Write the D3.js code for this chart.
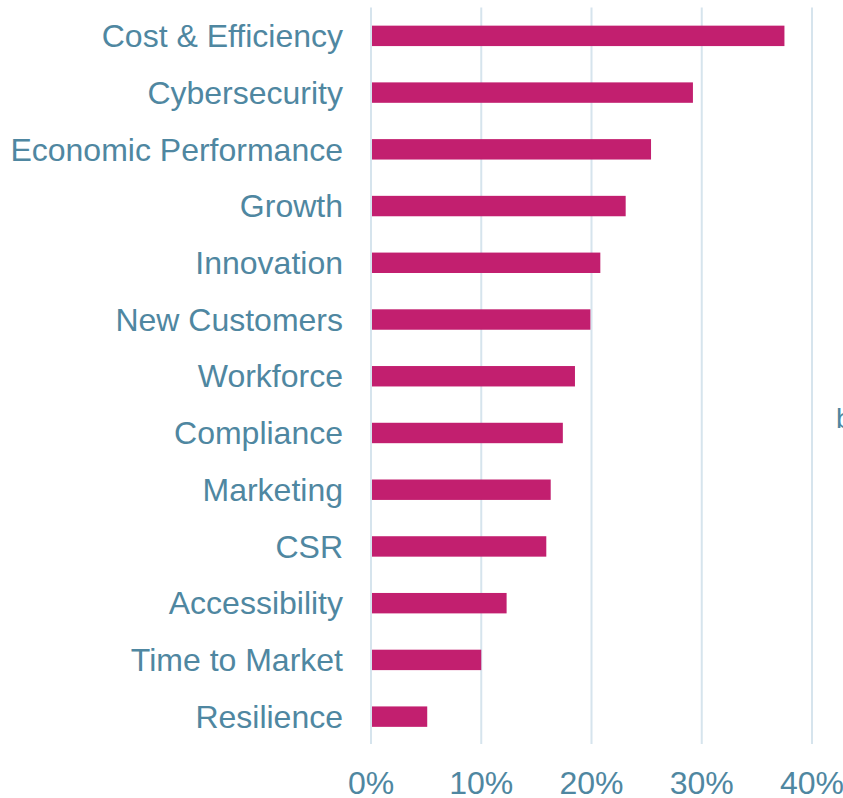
<!DOCTYPE html>
<html>
<head>
<meta charset="utf-8">
<script src="https://cdn.jsdelivr.net/npm/d3@7"></script>
<style>
  body { margin: 0; background: #fff; }
  svg { display: block; }
</style>
</head>
<body>
<svg id="chart"></svg>
<script>
// values (share of respondents)
var categories = ["Cost & Efficiency", "Cybersecurity", "Economic Performance", "Growth",
                  "Innovation", "New Customers", "Workforce", "Compliance", "Marketing",
                  "CSR", "Accessibility", "Time to Market", "Resilience"];
var shares = [0.375, 0.292, 0.254, 0.231, 0.208, 0.199, 0.185, 0.174, 0.163, 0.159, 0.123, 0.100, 0.051];
var tickValues = [0, 0.1, 0.2, 0.3, 0.4];

var width = 843, height = 798;
var textColor = "#4f87a1", barColor = "#c21f6f", gridColor = "#d6e4ed";

var svg = d3.select("#chart")
    .attr("width", width)
    .attr("height", height);

var x = d3.scaleLinear()
    .domain([0, 0.4])
    .range([371, 812]);

var y = d3.scaleBand()
    .domain(categories)
    .range([7.5, 745])
    .paddingInner(0.64)
    .paddingOuter(0.32);

// vertical grid lines
svg.append("g")
    .selectAll("line")
    .data(tickValues)
    .join("line")
    .attr("x1", d => x(d))
    .attr("x2", d => x(d))
    .attr("y1", 7.5)
    .attr("y2", 744)
    .attr("stroke", gridColor)
    .attr("stroke-width", 2);

// bars
svg.append("g")
    .selectAll("rect")
    .data(shares)
    .join("rect")
    .attr("x", x(0) + 1)
    .attr("y", (d, i) => y(categories[i]))
    .attr("width", d => x(d) - x(0) - 1)
    .attr("height", y.bandwidth())
    .attr("fill", barColor);

// category labels
svg.append("g")
    .selectAll("text")
    .data(categories)
    .join("text")
    .attr("x", 343)
    .attr("y", d => y(d) + y.bandwidth() / 2)
    .attr("dy", "0.35em")
    .attr("text-anchor", "end")
    .style("font-family", "Liberation Sans, Arial, sans-serif")
    .style("font-size", "32px")
    .attr("fill", textColor)
    .text(d => d);

// x axis tick labels
svg.append("g")
    .selectAll("text")
    .data(tickValues)
    .join("text")
    .attr("x", d => x(d))
    .attr("y", 794)
    .attr("text-anchor", "middle")
    .style("font-family", "Liberation Sans, Arial, sans-serif")
    .style("font-size", "32px")
    .attr("fill", textColor)
    .text(d3.format(".0%"));

// clipped text at the right edge
svg.append("text")
    .attr("x", 836)
    .attr("y", 428)
    .style("font-family", "Liberation Sans, Arial, sans-serif")
    .style("font-size", "28px")
    .attr("fill", textColor)
    .text("b");
</script>
</body>
</html>
